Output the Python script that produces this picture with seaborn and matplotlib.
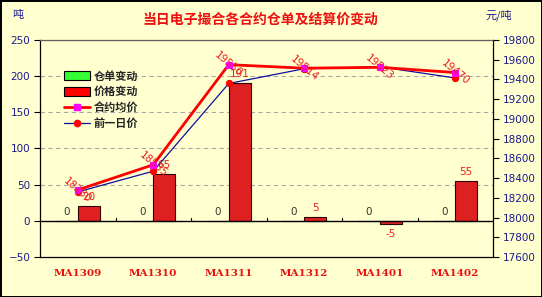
import matplotlib
matplotlib.use("Agg")
import matplotlib.pyplot as plt
import seaborn as sns
import pandas as pd
from matplotlib.patches import Patch
from matplotlib.lines import Line2D

# ---- data ----
contracts = ["MA1309", "MA1310", "MA1311", "MA1312", "MA1401", "MA1402"]
warrant_change = [0, 0, 0, 0, 0, 0]          # 仓单变动
price_change = [20, 65, 191, 5, -5, 55]      # 价格变动
avg_price = [18280, 18535, 19550, 19514, 19523, 19470]   # 合约均价
prev_price = [18260, 18470, 19359, 19509, 19528, 19415]  # 前一日价
left_ticks = [-50, 0, 50, 100, 150, 200, 250]
right_ticks = list(range(17600, 19801, 200))

series_names = ["仓单变动", "价格变动"]

bars = pd.DataFrame({
    "合约": contracts * 2,
    "类别": [series_names[0]] * 6 + [series_names[1]] * 6,
    "值": warrant_change + price_change,
})
lines = pd.DataFrame({"合约": contracts, "合约均价": avg_price, "前一日价": prev_price})

BG = "#FFFFD0"
sns.set_theme(style="white")
plt.rcParams["font.family"] = ["DejaVu Sans", "Noto Sans CJK SC"]

fig = plt.figure(figsize=(5.42, 2.97), dpi=100, facecolor=BG)
fig.patch.set_edgecolor("black")
fig.patch.set_linewidth(2)
ax = fig.add_axes([40 / 542, 1 - 257 / 297, 453 / 542, 217 / 297])
ax.set_facecolor(BG)

sns.barplot(data=bars, x="合约", y="值", hue="类别", order=contracts,
            hue_order=series_names, palette=["#33FF33", "#FF0000"],
            width=0.58, edgecolor="#300000", linewidth=0.8, ax=ax, legend=False, zorder=2)
ax.set_xlim(-0.5, 5.5)
ax.set_ylim(-50, 250)
ax.set_yticks(left_ticks)
ax.set_xlabel("")
ax.set_ylabel("")
ax.axhline(0, color="black", lw=1, zorder=3)
for y in [50, 100, 150, 200]:
    ax.axhline(y, color="#A8A8A8", lw=0.8, ls=(0, (4, 3)), zorder=1)
for b in [0.5, 1.5, 2.5, 3.5, 4.5]:
    ax.plot([b, b], [0, 4.5], color="black", lw=0.8, zorder=3)

ax.bar_label(ax.containers[0], fmt="%d", padding=3, fontsize=7.5, color="#333333")
ax.bar_label(ax.containers[1], fmt="%d", padding=3, fontsize=7.5, color="#EE2020")

ax.tick_params(axis="y", colors="black", labelcolor="#1A1A8C", labelsize=7.5,
               direction="out", length=4, width=0.8, left=True, pad=3)
ax.tick_params(axis="x", length=0, pad=9)
for lab in ax.get_xticklabels():
    lab.set_fontfamily("DejaVu Serif")
    lab.set_fontweight("bold")
    lab.set_color("#E81010")
    lab.set_fontsize(7.5)
for s in ["left", "right", "bottom"]:
    ax.spines[s].set_color("black")
    ax.spines[s].set_linewidth(0.9)
ax.spines["top"].set_color("#606060")
ax.spines["top"].set_linewidth(0.9)

ax2 = ax.twinx()
ax2.patch.set_alpha(0)
sns.lineplot(data=lines, x="合约", y="前一日价", color="#1010A0", lw=0.9,
             marker="o", markersize=4.5, markerfacecolor="#FF0000",
             markeredgecolor="#FF0000", ax=ax2, zorder=4)
sns.lineplot(data=lines, x="合约", y="合约均价", color="#FF0000", lw=2,
             marker="s", markersize=4.5, markerfacecolor="#FF00FF",
             markeredgecolor="#FF00FF", ax=ax2, zorder=5)
ax2.set_ylim(17600, 19800)
ax2.set_yticks(right_ticks)
ax2.set_xlim(-0.5, 5.5)
ax2.set_ylabel("")
ax2.set_xlabel("")
ax2.tick_params(axis="y", colors="black", labelcolor="#1A1A8C", labelsize=7.5,
                direction="out", length=4, width=0.8, right=True, pad=3)
for s in ax2.spines.values():
    s.set_visible(False)

for i, v in enumerate(avg_price):
    ax2.text(i, v, f"{v}", rotation=-40, ha="center", va="center",
             fontsize=7.5, color="#E82020", zorder=6, rotation_mode="anchor")

handles = [
    Patch(facecolor="#33FF33", edgecolor="black", lw=0.8),
    Patch(facecolor="#FF0000", edgecolor="black", lw=0.8),
    Line2D([], [], color="#FF0000", lw=2, marker="s", markersize=4.5,
           markerfacecolor="#FF00FF", markeredgecolor="#FF00FF"),
    Line2D([], [], color="#1010A0", lw=0.9, marker="o", markersize=4.5,
           markerfacecolor="#FF0000", markeredgecolor="#FF0000"),
]
leg = ax2.legend(handles, ["仓单变动", "价格变动", "合约均价", "前一日价"],
                 loc="upper left", bbox_to_anchor=(0.035, 0.9), frameon=False,
                 prop={"family": "Noto Sans CJK SC", "weight": "bold", "size": 8},
                 handlelength=2.4, handleheight=0.8, labelspacing=0.25,
                 handletextpad=0.3, borderpad=0.2)

fig.text(260 / 542, 1 - 20 / 297, "当日电子撮合各合约仓单及结算价变动", ha="center",
         va="center", color="#EE1010", fontsize=10, fontweight="bold",
         family="Noto Sans CJK SC")
fig.text(12 / 542, 1 - 15 / 297, "吨", ha="left", va="center", color="#1A1A8C",
         fontsize=8, family="Noto Sans CJK SC")
fig.text(512 / 542, 1 - 15 / 297, "元/吨", ha="right", va="center", color="#1A1A8C",
         fontsize=8, family="Noto Sans CJK SC")

fig.savefig("out.png", dpi=100, facecolor=BG, edgecolor="black")
